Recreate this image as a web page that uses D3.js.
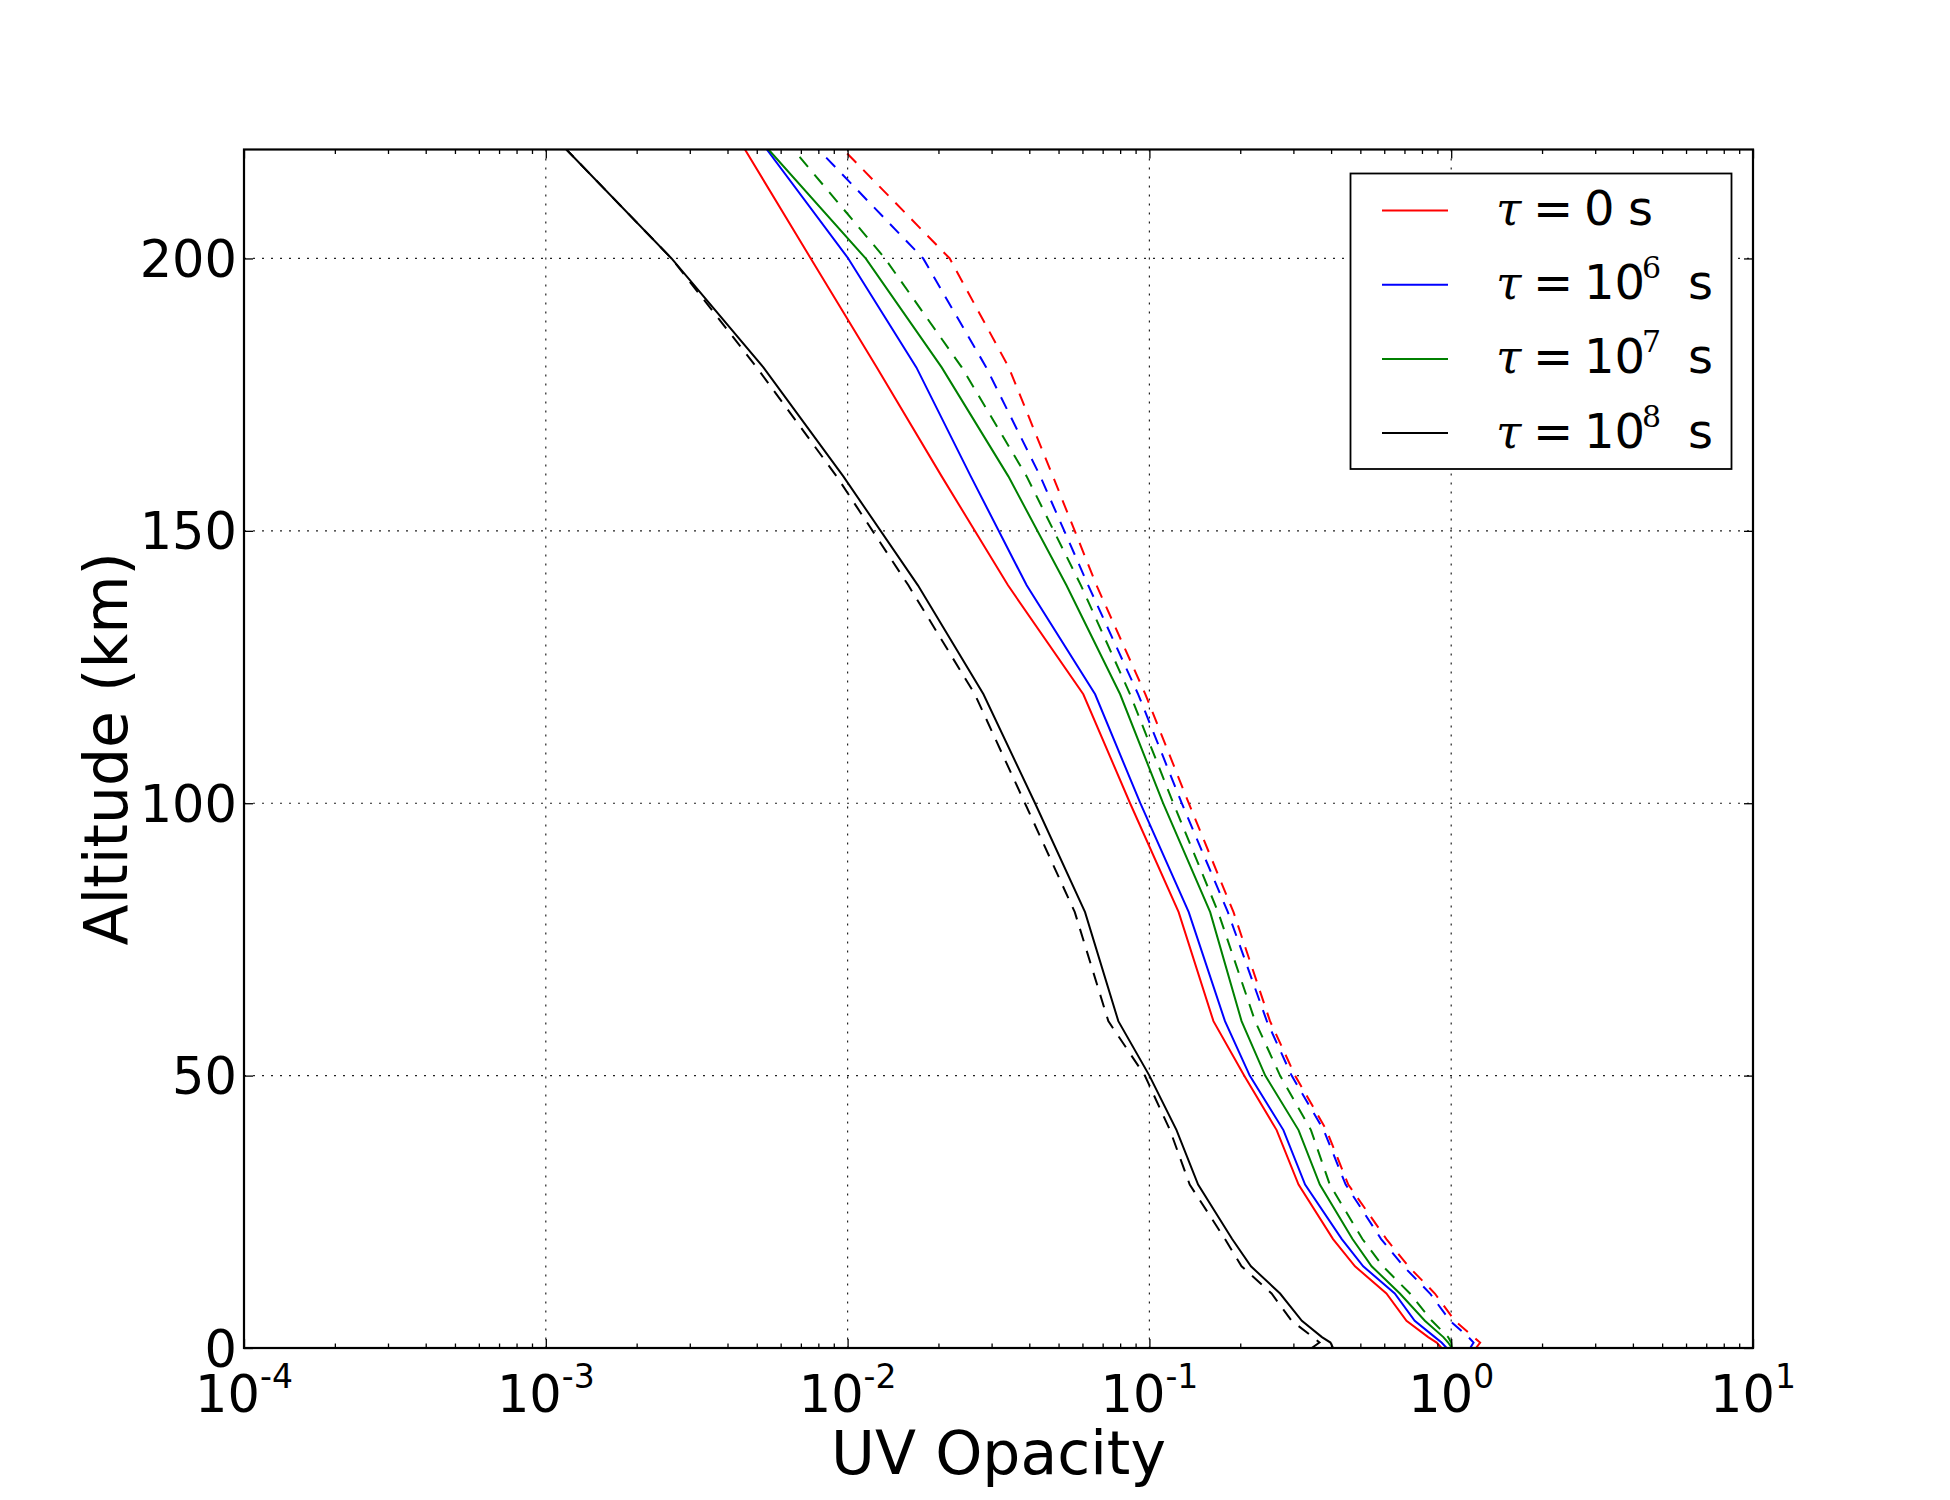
<!DOCTYPE html>
<html>
<head>
<meta charset="utf-8">
<script src="https://cdn.jsdelivr.net/npm/d3@7"></script>
<style>
  html, body { margin: 0; padding: 0; background: #fff; }
  svg { display: block; }
</style>
</head>
<body>
<svg id="chart" width="1950" height="1500"></svg>
<script>
// ---------------- data ----------------
const altitudes = [0, 1, 2, 5, 10, 15, 20, 30, 40, 50, 60, 80, 100, 120, 140, 160, 180, 200, 220];

// tau = 0 s
const tau0Solid  = [0.929, 0.895, 0.839, 0.711, 0.610, 0.480, 0.406, 0.312, 0.264, 0.206, 0.163, 0.125, 0.0863, 0.0604, 0.0340, 0.0205, 0.0125, 0.00755, 0.00457];
const tau0Dashed = [1.208, 1.247, 1.186, 1.028, 0.883, 0.721, 0.610, 0.456, 0.386, 0.304, 0.251, 0.190, 0.135, 0.0970, 0.0668, 0.0479, 0.0342, 0.0218, 0.00968];
// tau = 1e6 s
const tau6Solid  = [0.966, 0.929, 0.883, 0.757, 0.650, 0.511, 0.434, 0.328, 0.278, 0.215, 0.178, 0.135, 0.0933, 0.0661, 0.0392, 0.0256, 0.0169, 0.01005, 0.00540];
const tau6Dashed = [1.156, 1.186, 1.140, 0.991, 0.851, 0.695, 0.586, 0.447, 0.378, 0.296, 0.245, 0.182, 0.128, 0.0918, 0.0627, 0.0435, 0.0288, 0.0178, 0.00800];
// tau = 1e7 s
const tau7Solid  = [1.005, 0.977, 0.942, 0.818, 0.676, 0.545, 0.471, 0.367, 0.312, 0.242, 0.202, 0.159, 0.111, 0.0800, 0.0531, 0.0341, 0.0205, 0.01148, 0.00547];
const tau7Dashed = [1.005, 1.000, 0.977, 0.863, 0.730, 0.594, 0.508, 0.396, 0.343, 0.271, 0.224, 0.169, 0.120, 0.0863, 0.0593, 0.0392, 0.0239, 0.0133, 0.00661];
// tau = 1e8 s
const tau8Solid  = [0.406, 0.398, 0.373, 0.320, 0.271, 0.217, 0.188, 0.145, 0.123, 0.100, 0.0789, 0.0612, 0.0418, 0.0282, 0.0171, 0.00968, 0.00526, 0.00261, 0.00117];
const tau8Dashed = [0.345, 0.366, 0.348, 0.296, 0.254, 0.202, 0.178, 0.136, 0.117, 0.0966, 0.0731, 0.0566, 0.0387, 0.0264, 0.0159, 0.00920, 0.00500, 0.00261, 0.00117];

const seriesColors = ["#ff0000", "#0000ff", "#008000", "#000000"];
const legendBases  = ["0", "10", "10", "10"];
const legendExps   = [null, "6", "7", "8"];

const xTickExps = [-4, -3, -2, -1, 0, 1];
const yTicks = [0, 50, 100, 150, 200];
const xLabel = "UV Opacity";
const yLabel = "Altitude (km)";

// ---------------- layout ----------------
const svg = d3.select("#chart");
const L = 244, R = 1753, T = 149.5, B = 1348;
const x = d3.scaleLog().domain([1e-4, 10]).range([L, R]);
const y = d3.scaleLinear().domain([0, 220]).range([B, T]);

const seriesList = [
  { color: seriesColors[0], solid: tau0Solid, dashed: tau0Dashed },
  { color: seriesColors[1], solid: tau6Solid, dashed: tau6Dashed },
  { color: seriesColors[2], solid: tau7Solid, dashed: tau7Dashed },
  { color: seriesColors[3], solid: tau8Solid, dashed: tau8Dashed }
];

svg.append("defs").append("clipPath").attr("id", "plotclip")
  .append("rect").attr("x", L).attr("y", T).attr("width", R - L).attr("height", B - T);

// grid
const gridG = svg.append("g");
xTickExps.map(e => Math.pow(10, e)).slice(1, -1).forEach(v => {
  gridG.append("line").attr("x1", x(v)).attr("x2", x(v)).attr("y1", T).attr("y2", B)
    .attr("stroke", "#222").attr("stroke-width", 1.2).attr("stroke-dasharray", "2,7");
});
yTicks.slice(1).forEach(v => {
  gridG.append("line").attr("x1", L).attr("x2", R).attr("y1", y(v)).attr("y2", y(v))
    .attr("stroke", "#222").attr("stroke-width", 1.2).attr("stroke-dasharray", "2,7");
});

// lines
const lineGen = d3.line().x(d => x(d[0])).y(d => y(d[1]));
const linesG = svg.append("g").attr("clip-path", "url(#plotclip)");
seriesList.forEach(s => {
  linesG.append("path").datum(s.solid.map((v, i) => [v, altitudes[i]]))
    .attr("d", lineGen).attr("fill", "none").attr("stroke", s.color).attr("stroke-width", 2);
});
seriesList.forEach(s => {
  linesG.append("path").datum(s.dashed.map((v, i) => [v, altitudes[i]]))
    .attr("d", lineGen).attr("fill", "none").attr("stroke", s.color).attr("stroke-width", 2)
    .attr("stroke-dasharray", "13,10");
});

// axes (ticks inside)
const majorX = xTickExps.map(e => Math.pow(10, e));
const minorX = [];
for (let e = -4; e < 1; e++) for (let m = 2; m <= 9; m++) minorX.push(m * Math.pow(10, e));

function styleAxis(g) {
  g.select(".domain").remove();
  g.selectAll(".tick line").attr("stroke", "#000").attr("stroke-width", 1.3);
}
svg.append("g").attr("transform", `translate(0,${B})`)
  .call(d3.axisBottom(x).tickValues(majorX).tickSize(-9).tickFormat("")).call(styleAxis);
svg.append("g").attr("transform", `translate(0,${B})`)
  .call(d3.axisBottom(x).tickValues(minorX).tickSize(-4.5).tickFormat("")).call(styleAxis);
svg.append("g").attr("transform", `translate(0,${T})`)
  .call(d3.axisTop(x).tickValues(majorX).tickSize(-9).tickFormat("")).call(styleAxis);
svg.append("g").attr("transform", `translate(0,${T})`)
  .call(d3.axisTop(x).tickValues(minorX).tickSize(-4.5).tickFormat("")).call(styleAxis);
svg.append("g").attr("transform", `translate(${L},0)`)
  .call(d3.axisLeft(y).tickValues(yTicks).tickSize(-9).tickFormat("")).call(styleAxis);
svg.append("g").attr("transform", `translate(${R},0)`)
  .call(d3.axisRight(y).tickValues(yTicks).tickSize(-9).tickFormat("")).call(styleAxis);

// frame
svg.append("rect").attr("x", L).attr("y", T).attr("width", R - L).attr("height", B - T)
  .attr("fill", "none").attr("stroke", "#000").attr("stroke-width", 2.2);

// tick labels
const font = "'DejaVu Sans', 'Bitstream Vera Sans', sans-serif";
const tickFs = 51;
xTickExps.forEach(e => {
  const t = svg.append("text").attr("x", x(Math.pow(10, e))).attr("y", 1412)
    .attr("text-anchor", "middle").attr("font-family", font).attr("font-size", tickFs).attr("fill", "#000");
  t.append("tspan").text("10");
  t.append("tspan").attr("dy", -24).attr("font-size", 33).text(String(e));
});
yTicks.forEach(v => {
  svg.append("text").attr("x", 237).attr("y", y(v) + 18.5)
    .attr("text-anchor", "end").attr("font-family", font).attr("font-size", tickFs).attr("fill", "#000")
    .text(v);
});

// axis labels
svg.append("text").attr("x", (L + R) / 2).attr("y", 1474).attr("text-anchor", "middle")
  .attr("font-family", font).attr("font-size", 60).attr("fill", "#000").text(xLabel);
svg.append("text").attr("transform", `translate(127,${(T + B) / 2}) rotate(-90)`)
  .attr("text-anchor", "middle").attr("font-family", font).attr("font-size", 60).attr("fill", "#000").text(yLabel);

// legend
const lg = svg.append("g");
lg.append("rect").attr("x", 1350.5).attr("y", 173.5).attr("width", 381).attr("height", 295.5)
  .attr("fill", "#fff").attr("stroke", "#000").attr("stroke-width", 1.8);
seriesColors.forEach((c, i) => {
  const ly = 210.5 + i * 74.2;
  lg.append("line").attr("x1", 1382).attr("x2", 1448).attr("y1", ly).attr("y2", ly)
    .attr("stroke", c).attr("stroke-width", 2);
  const by = ly + 14.5;
  lg.append("text").attr("x", 1496).attr("y", by).attr("font-family", "'DejaVu Serif', serif")
    .attr("font-style", "italic").attr("font-size", 46).attr("fill", "#000").text("τ");
  lg.append("text").attr("x", 1533).attr("y", by).attr("font-family", font)
    .attr("font-size", 48).attr("fill", "#000").text("=");
  lg.append("text").attr("x", 1584).attr("y", by).attr("font-family", font)
    .attr("font-size", 48).attr("fill", "#000").text(legendBases[i]);
  if (legendExps[i]) {
    lg.append("text").attr("x", 1642).attr("y", by - 21).attr("font-family", "'DejaVu Serif', serif")
      .attr("font-size", 30).attr("fill", "#000").text(legendExps[i]);
    lg.append("text").attr("x", 1688).attr("y", by).attr("font-family", font)
      .attr("font-size", 48).attr("fill", "#000").text("s");
  } else {
    lg.append("text").attr("x", 1628).attr("y", by).attr("font-family", font)
      .attr("font-size", 48).attr("fill", "#000").text("s");
  }
});
</script>
</body>
</html>
